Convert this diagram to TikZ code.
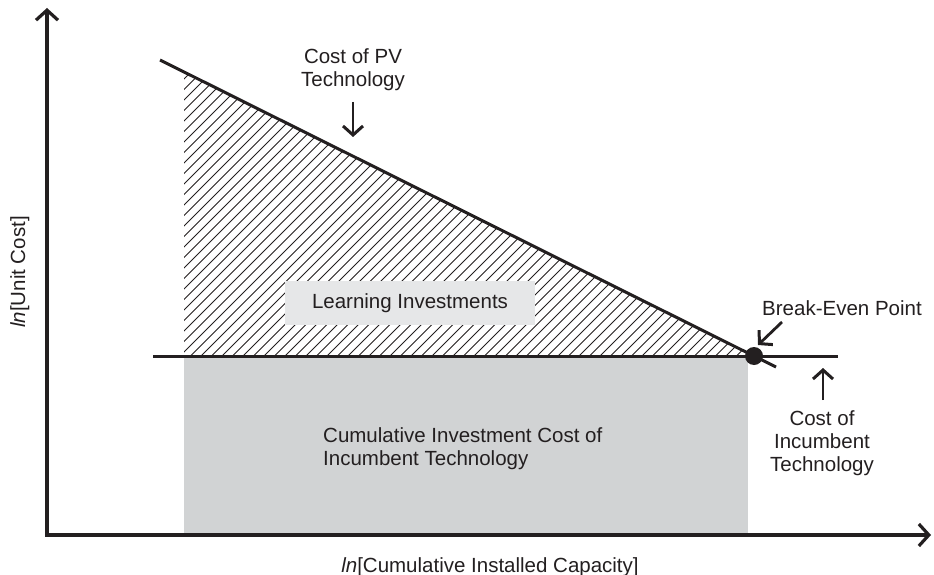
\documentclass[tikz,border=0pt]{standalone}
\usepackage{fontspec}
\setmainfont{Liberation Sans}
\usetikzlibrary{arrows.meta}
\definecolor{ink}{HTML}{231F20}
\definecolor{fillgray}{HTML}{D1D3D4}
\definecolor{boxgray}{HTML}{E6E7E8}
\begin{document}
\begin{tikzpicture}[x=1pt,y=-1pt,
  lbl/.style={font=\fontsize{20.5}{23}\selectfont, text=ink, inner sep=0pt, align=center},
  axisline/.style={draw=ink, line width=3.2pt, line join=miter,
     {Straight Barb[length=10pt,width=22pt,line width=3.2pt]}-{Straight Barb[length=10pt,width=22pt,line width=3.2pt]}},
  curve/.style={draw=ink, line width=3pt},
  pointer/.style={draw=ink, line width=2.8pt, -{Straight Barb[length=9pt,width=20pt,line width=3pt]}},
  hatchline/.style={draw=ink, line width=0.8pt}
]
\useasboundingbox (0,0) rectangle (934,575);

% key coordinates
\coordinate (origin) at (47,535);
\coordinate (ytip) at (47,8);
\coordinate (xtip) at (931,535);
\coordinate (pvstart) at (160,60);
\coordinate (be) at (754,356);
\coordinate (pvend) at (776,367);
\coordinate (inc0) at (153,356);
\coordinate (inc1) at (838,356);

% cumulative investment of incumbent (grey area)
\fill[fillgray] (184,356) rectangle (748,535);

% learning investments hatch
\begin{scope}
  \clip (184,356) -- (184,72) -- (be) -- cycle;
  \foreach \i in {0,...,90}
    \draw[hatchline] ({184-300+10.5*\i},358) -- ++(302,-302);
\end{scope}

\node[fill=boxgray, font=\fontsize{20.5}{23}\selectfont, text=ink,
      inner xsep=27pt, inner ysep=0pt, minimum height=44pt] (learn) at (410,303) {Learning Investments};

% curves
\draw[curve] (pvstart) -- (pvend);
\draw[curve] (inc0) -- (inc1);
\fill[ink] (be) circle (9);

% axes
\draw[axisline] (ytip) -- (origin) -- (xtip);

% labels
\node[lbl, anchor=base] (pvlbl) at (353,87) {Cost of PV\\Technology};
\coordinate (pvA) at (353,102);
\coordinate (pvB) at (353,137);
\draw[pointer] (pvA) -- (pvB);

\node[lbl, anchor=base] (belbl) at (842,315) {Break-Even Point};
\coordinate (beA) at (782,322);
\coordinate (beB) at (758,345);
\draw[pointer] (beA) -- (beB);

\node[lbl, anchor=base] (inclbl) at (822,471) {Cost of\\Incumbent\\Technology};
\coordinate (incA) at (823,400);
\coordinate (incB) at (823,368);
\draw[pointer] (incA) -- (incB);

\node[lbl, anchor=base west, align=left] (cumlbl) at (323,465) {Cumulative Investment Cost of\\Incumbent Technology};

\node[lbl, anchor=base] (xlbl) at (490,572) {\textit{ln}[Cumulative Installed Capacity]};
\node[lbl, anchor=base, rotate=90] (ylbl) at (25,272) {\textit{ln}[Unit Cost]};
\end{tikzpicture}
\end{document}
